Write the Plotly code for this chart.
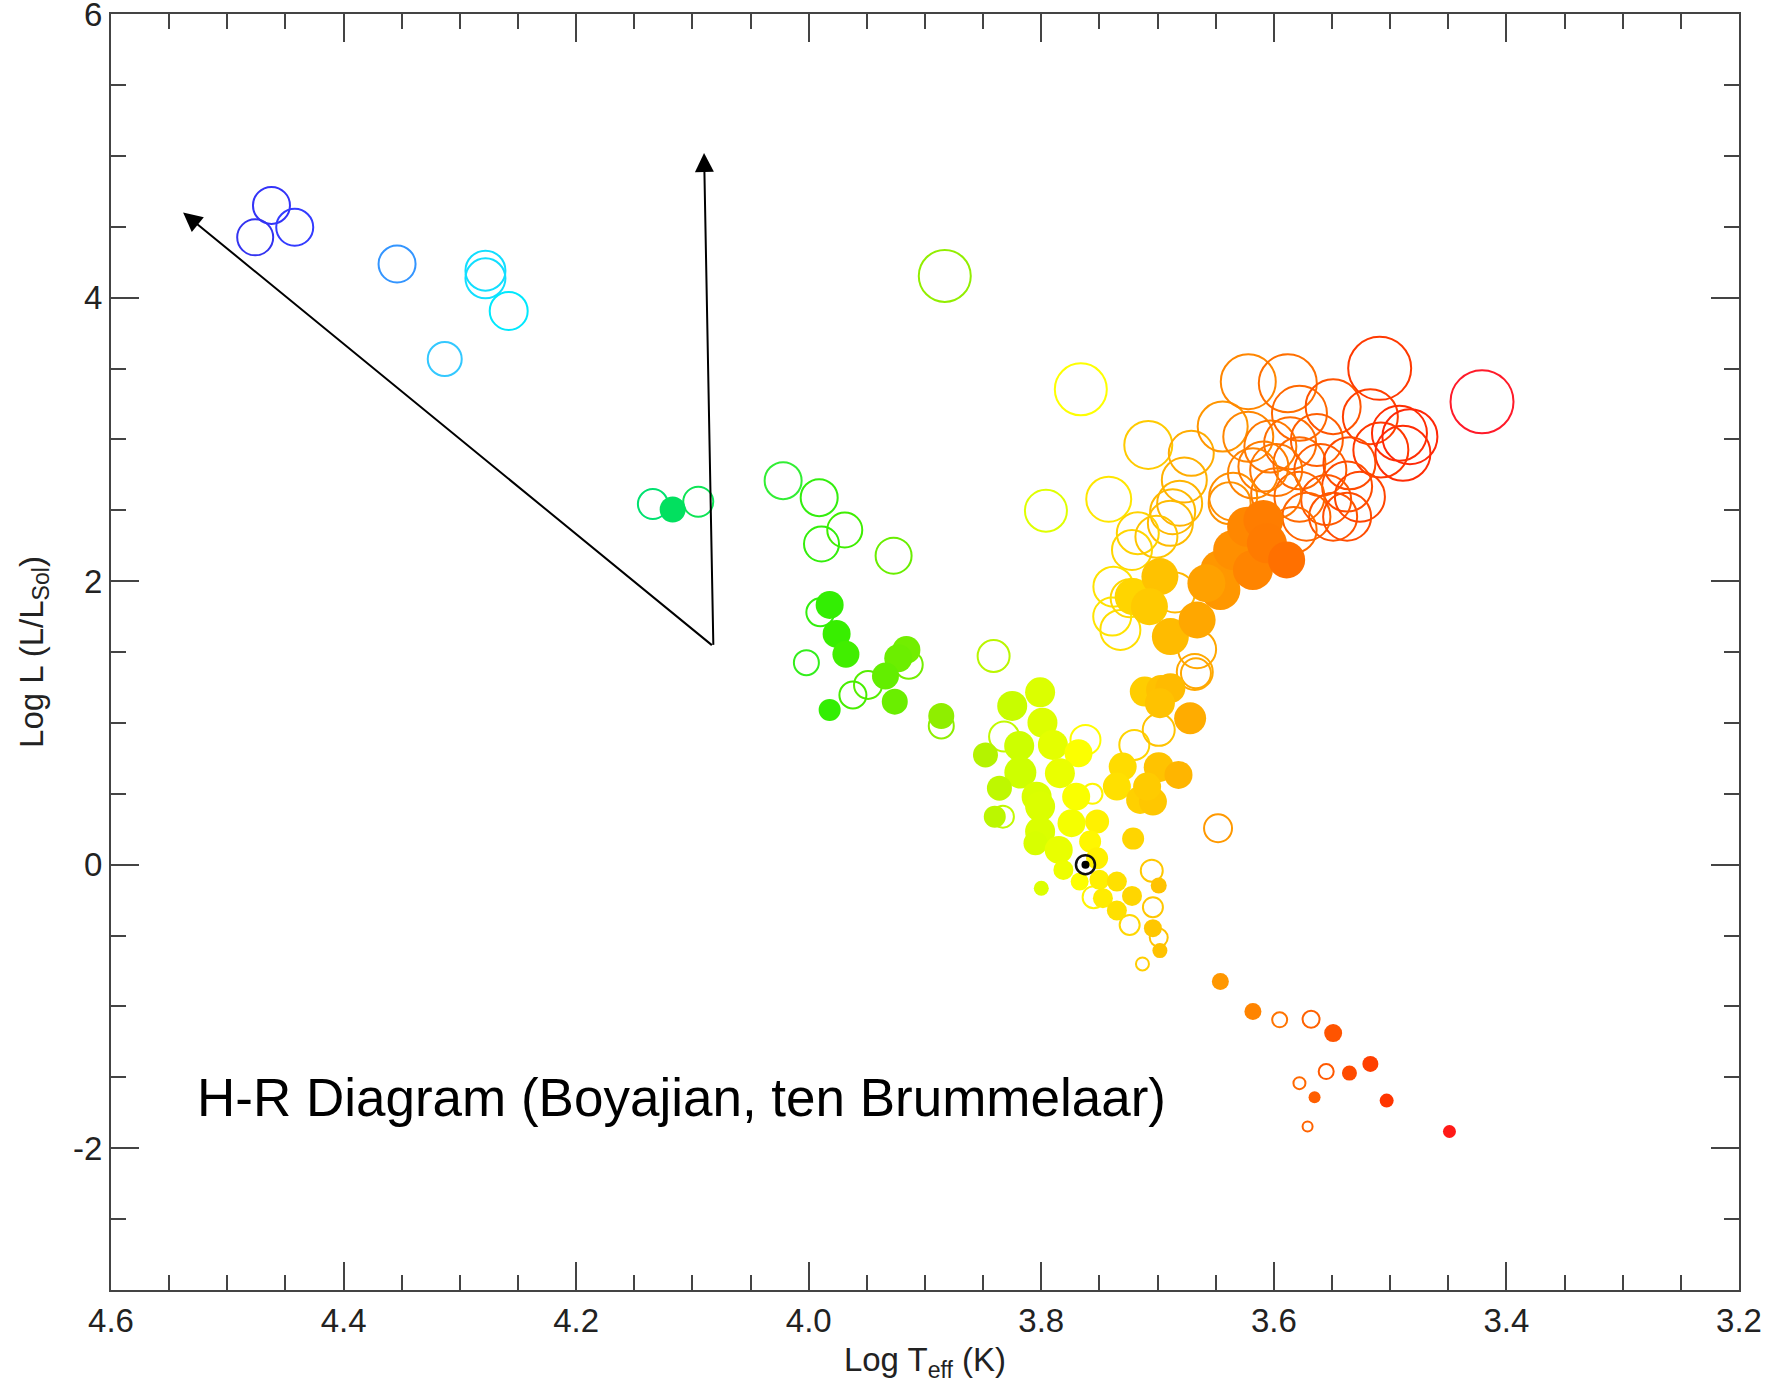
import plotly.graph_objects as go

# ---------------- data ----------------
# open symbols (evolved / giant stars + some dwarfs)
open_logt = [4.462, 4.476, 4.442, 4.354, 4.278, 4.278, 4.258, 4.313,
             4.134, 4.095, 4.022, 3.991, 3.969, 3.989, 3.927, 3.883,
             3.990, 4.002, 3.914, 3.949, 3.962, 3.886, 3.841, 3.832, 3.833,
             3.796, 3.766, 3.742, 3.762, 3.756, 3.755, 3.724, 3.705, 3.704,
             3.699, 3.713, 3.720, 3.699, 3.667, 3.648,
             3.708, 3.671, 3.644, 3.622, 3.677, 3.681, 3.687, 3.689, 3.717,
             3.722, 3.738, 3.732, 3.701, 3.724, 3.739, 3.666, 3.668, 3.685, 3.638,
             3.622, 3.588, 3.509, 3.421, 3.578, 3.549, 3.517, 3.492, 3.489,
             3.508, 3.483, 3.603, 3.586, 3.563, 3.598, 3.578, 3.560, 3.535,
             3.537, 3.555, 3.578, 3.598, 3.618, 3.635, 3.609, 3.572, 3.549,
             3.526, 3.537, 3.583,
             3.595, 3.568, 3.555, 3.578, 3.571]
open_logl = [4.65, 4.425, 4.496, 4.237, 4.19, 4.136, 3.906, 3.567,
             2.544, 2.56, 2.709, 2.589, 2.361, 2.262, 2.18, 4.153,
             1.78, 1.425, 1.41, 1.268, 1.197, 0.979, 1.472, 0.904, 0.339,
             2.497, 3.353, 2.578, 0.88, 0.50, -0.229, -0.425, -0.042, -0.30,
             -0.514, -0.70, 0.845, 0.951, 1.35, 0.257,
             2.961, 2.902, 3.09, 3.019, 2.714, 2.55, 2.49, 2.408, 2.338,
             2.22, 1.961, 1.656, 2.314, 1.88, 1.75, 1.52, 1.36, 1.92, 2.55,
             3.407, 3.396, 3.501, 3.266, 3.184, 3.231, 3.16, 3.043, 2.902,
             2.925, 3.019, 2.949, 2.972, 2.996, 2.784, 2.831, 2.784, 2.831,
             2.667, 2.573, 2.596, 2.62, 2.761, 2.596, 2.808, 2.455, 2.455,
             2.596, 2.455, 2.361,
             -1.094, -1.09, -1.459, -1.541, -1.847]
open_size = [37, 36, 37, 37, 40, 40, 38, 34,
             30, 30, 37, 37, 35, 35, 36, 52,
             28, 25, 28, 28, 27, 25, 32, 30, 22,
             42, 52, 45, 30, 20, 22, 20, 22, 20,
             18, 13, 30, 32, 30, 28,
             48, 45, 50, 50, 45, 45, 45, 45, 42,
             40, 40, 40, 42, 38, 38, 38, 36, 40, 42,
             55, 58, 63, 63, 55, 55, 55, 55, 55,
             55, 55, 52, 52, 52, 52, 52, 52, 52,
             50, 50, 50, 50, 50, 48, 50, 48, 48,
             50, 48, 46,
             15, 17, 15, 12, 10]

# filled symbols (main-sequence stars + some giants)
fill_logt = [4.117, 3.982, 3.976, 3.968, 3.916, 3.923, 3.934, 3.926, 3.982, 3.886,
             3.801, 3.825, 3.799, 3.819, 3.848, 3.790, 3.768, 3.818, 3.784, 3.836,
             3.804, 3.770, 3.801, 3.840, 3.774, 3.752, 3.801, 3.805, 3.785, 3.758,
             3.752, 3.781, 3.800, 3.767, 3.750, 3.747, 3.735, 3.735, 3.722, 3.699,
             3.704, 3.698, 3.730, 3.721, 3.699, 3.682, 3.735, 3.715, 3.704, 3.709,
             3.711, 3.697, 3.689, 3.698, 3.672,
             3.721, 3.698, 3.707, 3.689, 3.666, 3.646, 3.646, 3.635, 3.623, 3.609,
             3.618, 3.606, 3.589, 3.658,
             3.646, 3.618, 3.549, 3.535, 3.517, 3.565, 3.503, 3.449]
fill_logl = [2.505, 1.832, 1.628, 1.484, 1.515, 1.456, 1.331, 1.15, 1.092, 1.049,
             1.216, 1.12, 1.002, 0.838, 0.774, 0.845, 0.786, 0.650, 0.645, 0.54,
             0.48, 0.48, 0.41, 0.339, 0.293, 0.304, 0.233, 0.152, 0.104, 0.163,
             0.046, -0.037, -0.166, -0.119, -0.107, -0.236, -0.119, -0.323, -0.22, -0.147,
             -0.448, -0.606, 0.692, 0.184, 0.688, 0.633, 0.551, 0.457, 0.445, 0.551,
             1.221, 1.233, 1.245, 1.139, 1.033,
             1.891, 2.032, 1.82, 1.609, 1.726, 2.079, 1.938, 2.22, 2.384, 2.432,
             2.079, 2.267, 2.15, 1.985,
             -0.824, -1.036, -1.188, -1.47, -1.405, -1.64, -1.664, -1.882]
fill_size = [26, 28, 28, 27, 28, 28, 27, 26, 22, 26,
             30, 30, 30, 30, 25, 30, 28, 32, 30, 25,
             30, 28, 30, 22, 28, 24, 30, 24, 28, 22,
             22, 20, 15, 18, 20, 20, 20, 20, 20, 16,
             18, 15, 28, 22, 30, 28, 28, 28, 28, 28,
             30, 30, 30, 30, 32,
             37, 37, 37, 37, 37, 40, 40, 40, 40, 40,
             40, 40, 37, 38,
             17, 17, 18, 15, 16, 12, 14, 13]

sun_logt = [3.762]
sun_logl = [0.0]

x_ticks = [4.6, 4.4, 4.2, 4.0, 3.8, 3.6, 3.4, 3.2]
x_ticktext = ["4.6", "4.4", "4.2", "4.0", "3.8", "3.6", "3.4", "3.2"]
y_ticks = [6, 4, 2, 0, -2]
y_ticktext = ["6", "4", "2", "0", "-2"]

# temperature colour stops (log Teff -> colour)
color_stops = [(3.42, "#ff1a2a"), (3.46, "#ff1a10"), (3.50, "#ff3300"),
               (3.55, "#ff5500"), (3.60, "#ff7700"), (3.65, "#ff9a00"),
               (3.70, "#ffc400"), (3.74, "#ffe400"), (3.765, "#ffff00"),
               (3.79, "#e4ff00"), (3.82, "#ccff00"), (3.86, "#aaee00"),
               (3.90, "#80ee00"), (3.95, "#55ee00"), (3.98, "#33ee00"),
               (4.02, "#33ee33"), (4.12, "#00e060"), (4.26, "#00e8ff"),
               (4.31, "#33ccff"), (4.35, "#3399ff"), (4.45, "#3333ff"),
               (4.48, "#3333ee")]

# ---------------- figure ----------------
cmin, cmax = color_stops[0][0], color_stops[-1][0]
cscale = [[(t - cmin) / (cmax - cmin), c] for t, c in color_stops]

fig = go.Figure()

fig.add_trace(go.Scatter(
    x=open_logt, y=open_logl, mode="markers",
    marker=dict(symbol="circle-open", size=open_size, color=open_logt,
                colorscale=cscale, cmin=cmin, cmax=cmax, opacity=1,
                line=dict(width=2)),
    hoverinfo="x+y", showlegend=False))

fig.add_trace(go.Scatter(
    x=fill_logt, y=fill_logl, mode="markers",
    marker=dict(symbol="circle", size=fill_size, color=fill_logt,
                colorscale=cscale, cmin=cmin, cmax=cmax, opacity=1,
                line=dict(width=0)),
    hoverinfo="x+y", showlegend=False))

# Sun symbol
fig.add_trace(go.Scatter(
    x=sun_logt, y=sun_logl, mode="markers",
    marker=dict(symbol="circle-open", size=19, color="#111111", opacity=1,
                line=dict(width=2.5)),
    hoverinfo="skip", showlegend=False))
fig.add_trace(go.Scatter(
    x=sun_logt, y=sun_logl, mode="markers",
    marker=dict(symbol="circle", size=8, color="#000000", opacity=1),
    hoverinfo="skip", showlegend=False))

# arrows
arrow_start = (4.082, 1.54)
arrow_ends = [(4.538, 4.60), (4.090, 5.02)]
for ex, ey in arrow_ends:
    fig.add_annotation(x=ex, y=ey, ax=arrow_start[0], ay=arrow_start[1],
                       xref="x", yref="y", axref="x", ayref="y",
                       text="", showarrow=True, arrowhead=2, arrowsize=1.9,
                       arrowwidth=2, arrowcolor="#000000")

fig.add_annotation(x=4.528, y=-1.645, xref="x", yref="y",
                   text="H-R Diagram (Boyajian, ten Brummelaar)",
                   showarrow=False, xanchor="left", yanchor="middle",
                   font=dict(family="Liberation Sans, Arial", size=53, color="#000000"))

axis_common = dict(
    showline=True, linecolor="#444444", linewidth=2, mirror="ticks",
    ticks="inside", ticklen=28, tickwidth=2, tickcolor="#444444",
    showgrid=False, zeroline=False, automargin=False,
    ticklabeloverflow="allow",
    tickfont=dict(family="Liberation Sans, Arial", size=33, color="#222222"),
)

fig.update_xaxes(
    range=[4.6, 3.2], tickmode="array", tickvals=x_ticks, ticktext=x_ticktext,
    minor=dict(dtick=0.05, tick0=3.2, ticks="inside", ticklen=15, tickwidth=2,
               tickcolor="#444444", showgrid=False),
    title=dict(text="Log T<sub>eff</sub> (K)", standoff=10,
               font=dict(family="Liberation Sans, Arial", size=33, color="#222222")),
    **axis_common)

fig.update_yaxes(
    range=[-3, 6.0005], tickmode="array", tickvals=y_ticks, ticktext=y_ticktext,
    minor=dict(dtick=0.5, tick0=0, ticks="inside", ticklen=15, tickwidth=2,
               tickcolor="#444444", showgrid=False),
    title=dict(text="Log L (L/L<sub>Sol</sub>)", standoff=20,
               font=dict(family="Liberation Sans, Arial", size=33, color="#222222")),
    **axis_common)

fig.update_layout(
    width=1771, height=1383,
    margin=dict(l=111, r=32, t=14, b=93, autoexpand=False),
    paper_bgcolor="#ffffff", plot_bgcolor="#ffffff",
    showlegend=False,
)

# remove the default page margin so the figure sits at the window's corner
fig.write_html("out.html",
               config={"displayModeBar": False},
               post_script="document.body.style.margin='0';"
                           "document.body.style.overflow='hidden';")
